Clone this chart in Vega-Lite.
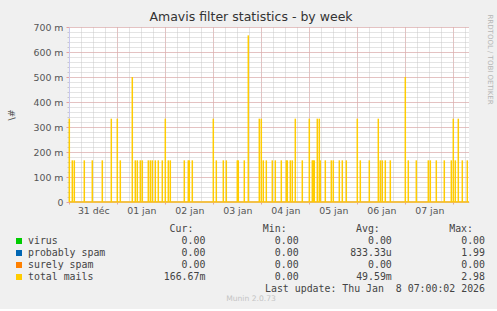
{
  "$schema": "https://vega.github.io/schema/vega-lite/v6.json",
  "background": "#f0f0f0",
  "padding": {"left": 6, "right": 6, "top": 10, "bottom": 6},
  "spacing": 9,
  "config": {"view": {"stroke": null}, "font": "DejaVu Sans"},
  "datasets": {
    "mails": [
      {"t": "2025-12-31T00:00", "v": 0.33333},
      {"t": "2025-12-31T01:30", "v": 0.16667},
      {"t": "2025-12-31T02:30", "v": 0.16667},
      {"t": "2025-12-31T07:30", "v": 0.16667},
      {"t": "2025-12-31T11:30", "v": 0.16667},
      {"t": "2025-12-31T16:30", "v": 0.16667},
      {"t": "2025-12-31T21:00", "v": 0.33333},
      {"t": "2026-01-01T00:00", "v": 0.33333},
      {"t": "2026-01-01T01:30", "v": 0.16667},
      {"t": "2026-01-01T07:30", "v": 0.5},
      {"t": "2026-01-01T09:00", "v": 0.16667},
      {"t": "2026-01-01T10:00", "v": 0.16667},
      {"t": "2026-01-01T11:30", "v": 0.16667},
      {"t": "2026-01-01T12:30", "v": 0.16667},
      {"t": "2026-01-01T15:30", "v": 0.16667},
      {"t": "2026-01-01T16:30", "v": 0.16667},
      {"t": "2026-01-01T17:30", "v": 0.16667},
      {"t": "2026-01-01T19:00", "v": 0.16667},
      {"t": "2026-01-01T20:30", "v": 0.16667},
      {"t": "2026-01-01T22:30", "v": 0.16667},
      {"t": "2026-01-02T00:00", "v": 0.33333},
      {"t": "2026-01-02T01:30", "v": 0.16667},
      {"t": "2026-01-02T02:30", "v": 0.16667},
      {"t": "2026-01-02T09:30", "v": 0.16667},
      {"t": "2026-01-02T11:30", "v": 0.16667},
      {"t": "2026-01-02T12:00", "v": 0.16667},
      {"t": "2026-01-02T13:30", "v": 0.16667},
      {"t": "2026-01-03T00:00", "v": 0.33333},
      {"t": "2026-01-03T01:30", "v": 0.16667},
      {"t": "2026-01-03T05:00", "v": 0.16667},
      {"t": "2026-01-03T06:30", "v": 0.16667},
      {"t": "2026-01-03T12:00", "v": 0.16667},
      {"t": "2026-01-03T12:30", "v": 0.16667},
      {"t": "2026-01-03T15:30", "v": 0.16667},
      {"t": "2026-01-03T17:30", "v": 0.66667},
      {"t": "2026-01-03T23:00", "v": 0.33333},
      {"t": "2026-01-04T00:00", "v": 0.33333},
      {"t": "2026-01-04T01:00", "v": 0.16667},
      {"t": "2026-01-04T02:30", "v": 0.16667},
      {"t": "2026-01-04T05:30", "v": 0.16667},
      {"t": "2026-01-04T07:00", "v": 0.16667},
      {"t": "2026-01-04T10:00", "v": 0.16667},
      {"t": "2026-01-04T12:30", "v": 0.16667},
      {"t": "2026-01-04T13:00", "v": 0.16667},
      {"t": "2026-01-04T14:30", "v": 0.16667},
      {"t": "2026-01-04T15:30", "v": 0.16667},
      {"t": "2026-01-04T17:00", "v": 0.33333},
      {"t": "2026-01-04T20:30", "v": 0.16667},
      {"t": "2026-01-05T00:00", "v": 0.33333},
      {"t": "2026-01-05T01:30", "v": 0.16667},
      {"t": "2026-01-05T02:00", "v": 0.16667},
      {"t": "2026-01-05T02:30", "v": 0.16667},
      {"t": "2026-01-05T04:00", "v": 0.33333},
      {"t": "2026-01-05T05:00", "v": 0.33333},
      {"t": "2026-01-05T05:30", "v": 0.16667},
      {"t": "2026-01-05T08:00", "v": 0.16667},
      {"t": "2026-01-05T11:00", "v": 0.16667},
      {"t": "2026-01-05T12:00", "v": 0.16667},
      {"t": "2026-01-05T15:00", "v": 0.16667},
      {"t": "2026-01-05T16:30", "v": 0.16667},
      {"t": "2026-01-05T18:30", "v": 0.16667},
      {"t": "2026-01-06T00:00", "v": 0.33333},
      {"t": "2026-01-06T01:30", "v": 0.16667},
      {"t": "2026-01-06T06:00", "v": 0.16667},
      {"t": "2026-01-06T10:30", "v": 0.33333},
      {"t": "2026-01-06T11:30", "v": 0.16667},
      {"t": "2026-01-06T12:30", "v": 0.16667},
      {"t": "2026-01-06T14:00", "v": 0.16667},
      {"t": "2026-01-06T16:30", "v": 0.16667},
      {"t": "2026-01-07T00:00", "v": 0.5},
      {"t": "2026-01-07T01:30", "v": 0.16667},
      {"t": "2026-01-07T05:30", "v": 0.16667},
      {"t": "2026-01-07T11:30", "v": 0.16667},
      {"t": "2026-01-07T12:30", "v": 0.16667},
      {"t": "2026-01-07T15:30", "v": 0.16667},
      {"t": "2026-01-07T19:30", "v": 0.16667},
      {"t": "2026-01-07T23:00", "v": 0.16667},
      {"t": "2026-01-08T00:00", "v": 0.33333},
      {"t": "2026-01-08T01:00", "v": 0.16667},
      {"t": "2026-01-08T02:30", "v": 0.33333},
      {"t": "2026-01-08T04:30", "v": 0.16667},
      {"t": "2026-01-08T07:00", "v": 0.16667}
    ],
    "legend": [
      {"series": "virus", "Cur": "0.00\u00a0", "Min": "0.00\u00a0", "Avg": "0.00\u00a0", "Max": "0.00\u00a0"},
      {"series": "probably spam", "Cur": "0.00\u00a0", "Min": "0.00\u00a0", "Avg": "833.33u", "Max": "1.99\u00a0"},
      {"series": "surely spam", "Cur": "0.00\u00a0", "Min": "0.00\u00a0", "Avg": "0.00\u00a0", "Max": "0.00\u00a0"},
      {"series": "total mails", "Cur": "166.67m", "Min": "0.00\u00a0", "Avg": "49.59m", "Max": "2.98\u00a0"}
    ],
    "header": [
      {"col": "Cur", "label": "Cur:"},
      {"col": "Min", "label": "Min:"},
      {"col": "Avg", "label": "Avg:"},
      {"col": "Max", "label": "Max:"}
    ],
    "note": [
      {"note": "Last update: Thu Jan\u00a0\u00a08 07:00:02 2026"}
    ]
  },
  "vconcat": [
    {
      "width": 400,
      "height": 175,
      "view": {"fill": "#ffffff", "stroke": null},
      "title": {"text": "Amavis filter statistics - by week", "fontSize": 12.5, "fontWeight": "normal", "color": "#333333", "anchor": "middle", "frame": "group", "dx": -18, "offset": -9},
      "data": {"name": "mails"},
      "layer": [
        {
          "mark": {"type": "rule", "opacity": 0},
          "encoding": {
            "x": {"field": "t", "type": "temporal",
              "scale": {"domain": [{"year": 2025, "month": 12, "date": 30, "hours": 23, "minutes": 51}, {"year": 2026, "month": 1, "date": 8, "hours": 7, "minutes": 51}]},
              "axis": {"orient": "bottom", "grid": true, "gridColor": "#c8c8c8", "gridDash": [1, 1], "tickCount": 33, "labels": false, "ticks": false, "domain": false, "title": null}},
            "y": {"field": "v", "type": "quantitative", "scale": {"domain": [0, 0.7], "nice": false},
              "axis": {"orient": "left", "grid": true, "gridColor": "#c8c8c8", "gridDash": [1, 1], "tickCount": 35, "labels": false, "ticks": true, "tickSize": 2, "tickColor": "#c8c8c8", "domain": false, "title": null}},
            "y2": {"datum": 0}
          }
        },
        {
          "mark": {"type": "rule", "opacity": 0},
          "encoding": {
            "x": {"field": "t", "type": "temporal",
              "axis": {"orient": "bottom", "grid": true, "gridColor": "#e4a0a0", "gridDash": [1, 1], "tickCount": 8, "labels": false, "ticks": true, "tickSize": 2, "tickColor": "#e4a0a0", "domain": false, "title": null}},
            "y": {"field": "v", "type": "quantitative",
              "axis": {"orient": "left", "grid": true, "gridColor": "#e4a0a0", "gridDash": [1, 1], "tickCount": 7, "ticks": true, "tickSize": 3, "tickColor": "#e4a0a0", "domain": true, "domainColor": "#c8c8f0",
                "labelExpr": "datum.value == 0 ? '0  ' : format(datum.value * 1000, '.0f') + ' m'",
                "labelFont": "DejaVu Sans", "labelFontSize": 9.4, "labelColor": "#555555", "labelPadding": 3,
                "title": "\\#", "titleFont": "DejaVu Sans", "titleFontSize": 9.4, "titleFontWeight": "normal", "titleColor": "#555555", "titlePadding": 16}},
            "y2": {"datum": 0}
          }
        },
        {
          "mark": {"type": "rule", "opacity": 0},
          "encoding": {
            "x": {"field": "t", "type": "temporal",
              "axis": {"orient": "bottom", "grid": false, "ticks": false, "domain": true, "domainColor": "#c8c8f0",
                "values": [
                  {"year": 2025, "month": 12, "date": 31, "hours": 12},
                  {"year": 2026, "month": 1, "date": 1, "hours": 12},
                  {"year": 2026, "month": 1, "date": 2, "hours": 12},
                  {"year": 2026, "month": 1, "date": 3, "hours": 12},
                  {"year": 2026, "month": 1, "date": 4, "hours": 12},
                  {"year": 2026, "month": 1, "date": 5, "hours": 12},
                  {"year": 2026, "month": 1, "date": 6, "hours": 12},
                  {"year": 2026, "month": 1, "date": 7, "hours": 12}
                ],
                "labelExpr": "timeFormat(datum.value, '%d') + ' ' + (month(datum.value) == 11 ? 'déc' : 'jan')",
                "labelFont": "DejaVu Sans", "labelFontSize": 9.4, "labelColor": "#555555", "labelPadding": 4, "labelFlush": false, "labelOverlap": false,
                "title": null}},
            "y": {"field": "v", "type": "quantitative",
              "axis": {"orient": "right", "grid": false, "ticks": false, "labels": false, "domain": false,
                "title": "RRDTOOL / TOBI OETIKER", "titleAngle": 90, "titleFont": "DejaVu Sans", "titleFontSize": 7, "titleFontWeight": "normal", "titleColor": "#b4b4b4",
                "titleAlign": "left", "titleBaseline": "middle", "titleX": 20.5, "titleY": -13}},
            "y2": {"datum": 0}
          }
        },
        {
          "mark": {"type": "rule", "color": "#f3c04a", "strokeWidth": 1},
          "encoding": {"y": {"datum": 0, "type": "quantitative", "axis": null}}
        },
        {
          "mark": {"type": "rule", "color": "#ffcc00", "strokeWidth": 1.5},
          "encoding": {
            "x": {"field": "t", "type": "temporal", "axis": null},
            "y": {"field": "v", "type": "quantitative", "axis": null},
            "y2": {"datum": 0}
          }
        }
      ],
      "resolve": {"axis": {"x": "independent", "y": "independent"}}
    },
    {
      "width": 400,
      "height": 60,
      "view": {"stroke": null},
      "title": {"text": "Munin 2.0.73", "orient": "bottom", "fontSize": 7.6, "fontWeight": "normal", "color": "#c4c4c4", "anchor": "middle", "frame": "group", "dx": -18, "offset": 1},
      "layer": [
        {
          "data": {"name": "legend"},
          "mark": {"type": "square", "size": 36, "filled": true, "opacity": 1},
          "encoding": {
            "x": {"datum": "sq", "type": "nominal", "scale": {"type": "point", "domain": ["sq", "gap", "Cur", "Min", "Avg", "Max"], "range": [-50, 416], "padding": 0}, "axis": null},
            "y": {"field": "series", "type": "nominal", "scale": {"type": "point", "domain": ["hdr", "virus", "probably spam", "surely spam", "total mails", "last"], "padding": 0}, "axis": null},
            "color": {"field": "series", "type": "nominal", "scale": {"domain": ["virus", "probably spam", "surely spam", "total mails"], "range": ["#00cc00", "#0066b3", "#ff8000", "#ffcc00"]}, "legend": null}
          }
        },
        {
          "data": {"name": "legend"},
          "mark": {"type": "text", "align": "left", "baseline": "middle", "dx": 9, "font": "DejaVu Sans Mono", "fontSize": 9.9, "color": "#444444"},
          "encoding": {
            "x": {"datum": "sq", "type": "nominal", "axis": null},
            "y": {"field": "series", "type": "nominal", "axis": null},
            "text": {"field": "series"}
          }
        },
        {
          "data": {"name": "legend"},
          "transform": [{"fold": ["Cur", "Min", "Avg", "Max"], "as": ["col", "val"]}],
          "mark": {"type": "text", "align": "right", "baseline": "middle", "font": "DejaVu Sans Mono", "fontSize": 9.9, "color": "#444444"},
          "encoding": {
            "x": {"field": "col", "type": "nominal", "axis": null},
            "y": {"field": "series", "type": "nominal", "axis": null},
            "text": {"field": "val"}
          }
        },
        {
          "data": {"name": "header"},
          "mark": {"type": "text", "align": "right", "baseline": "middle", "dx": -12, "font": "DejaVu Sans Mono", "fontSize": 9.9, "color": "#444444"},
          "encoding": {
            "x": {"field": "col", "type": "nominal", "axis": null},
            "y": {"datum": "hdr", "type": "nominal", "axis": null},
            "text": {"field": "label"}
          }
        },
        {
          "data": {"name": "note"},
          "mark": {"type": "text", "align": "right", "baseline": "middle", "font": "DejaVu Sans Mono", "fontSize": 9.9, "color": "#444444"},
          "encoding": {
            "x": {"datum": "Max", "type": "nominal", "axis": null},
            "y": {"datum": "last", "type": "nominal", "axis": null},
            "text": {"field": "note"}
          }
        }
      ]
    }
  ]
}
